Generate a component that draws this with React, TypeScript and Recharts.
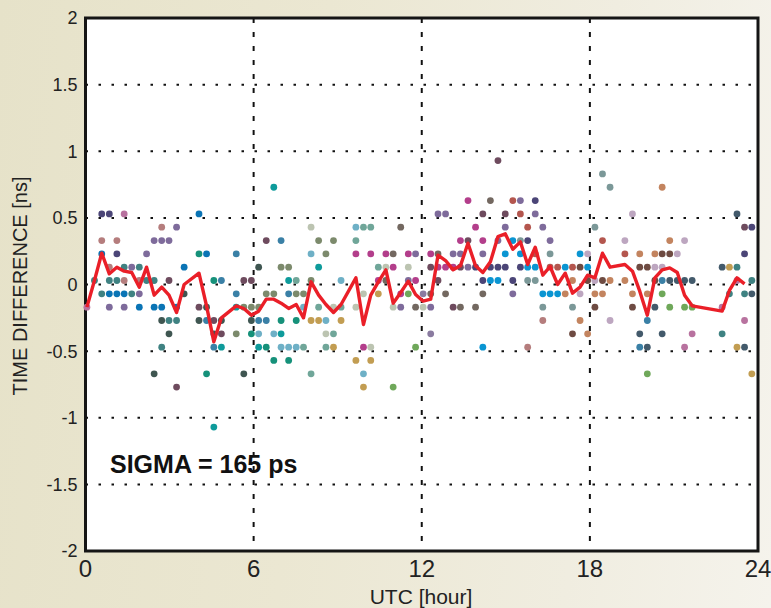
import React from 'react';
import {
    ScatterChart,
    Scatter,
    XAxis,
    YAxis,
    CartesianGrid,
    ReferenceArea
} from 'recharts';

type Pt = [number, number];

const hourTicks = [0, 6, 12, 18, 24];
const nsTicks = [-2, -1.5, -1, -0.5, 0, 0.5, 1, 1.5, 2];

// [UTC hour, time difference ns] per satellite track
const navy: Pt[] = [[0.58, 0.53], [0.85, 0.53], [1.12, 0.23], [13.92, 0.13], [14.18, 0.03], [14.45, 0.13], [14.72, 0.13], [14.98, 0.13], [15.25, 0.03], [15.52, 0.13], [15.78, 0.33], [16.05, 0.63], [23.52, 0.23], [23.78, 0.43]];
const rose: Pt[] = [[0.58, 0.33], [0.85, 0.13], [1.12, 0.33], [1.38, 0.03], [1.92, 0.03], [2.72, 0.43], [15.78, -0.47], [16.32, -0.27]];
const mauvePink: Pt[] = [[0.05, -0.17], [1.38, 0.53], [21.38, -0.47], [21.65, -0.37], [22.72, -0.17], [23.25, 0.03], [23.52, -0.27]];
const blue: Pt[] = [[0.58, 0.23], [0.85, -0.07], [1.12, -0.07], [1.38, -0.07], [1.92, -0.17], [2.45, -0.17], [2.72, -0.17], [3.25, -0.17], [3.52, 0.13], [4.05, 0.53], [4.32, 0.23]];
const cyanBlue: Pt[] = [[14.18, -0.47], [14.45, 0.03], [14.72, 0.03], [14.98, 0.23], [15.25, 0.33], [15.52, 0.23], [15.78, 0.13], [16.05, 0.13], [16.32, -0.07], [16.58, -0.07], [16.85, -0.07], [17.12, 0.13], [17.65, 0.23], [17.92, 0.13]];
const teal: Pt[] = [[0.32, 0.03], [0.58, -0.07], [0.85, 0.03], [1.12, 0.03], [1.38, 0.13], [1.65, -0.07], [1.92, 0.13], [2.18, 0.03], [2.45, 0.03], [2.72, -0.47], [2.98, -0.27], [3.25, -0.27], [22.72, -0.37], [22.98, -0.07], [23.25, 0.13], [23.52, -0.07], [23.78, 0.03]];
const purple: Pt[] = [[0.85, -0.17], [1.38, -0.17], [1.65, 0.13], [1.92, -0.07], [2.18, 0.23], [2.45, 0.33], [2.72, 0.33], [2.98, 0.33], [3.25, 0.43], [11.25, -0.17], [11.52, 0.03], [11.78, 0.23], [12.32, -0.17], [12.58, 0.53], [12.85, 0.53], [13.12, 0.23], [13.38, 0.23], [13.65, 0.13], [14.18, 0.23], [14.72, 0.33], [14.98, 0.43], [15.25, -0.07], [15.52, 0.63], [16.05, 0.53], [16.32, 0.43], [16.58, 0.33]];
const plum: Pt[] = [[2.98, 0.03], [3.25, -0.77], [4.05, -0.17], [4.58, -0.27], [4.85, -0.37], [5.65, 0.03], [5.92, 0.03], [6.45, 0.33], [12.32, 0.13], [12.58, 0.03], [13.12, -0.17], [13.38, 0.13], [13.65, 0.33], [14.18, 0.53], [14.72, 0.93], [14.98, 0.53], [23.52, 0.43]];
const darkSlate: Pt[] = [[2.45, -0.67], [2.72, -0.27], [2.98, -0.37], [3.52, -0.07], [4.05, -0.27], [4.32, -0.17], [4.58, -0.37], [4.85, -0.27], [5.65, -0.67], [5.92, -0.27], [6.18, 0.13]];
const tealGreen: Pt[] = [[4.05, 0.23], [4.32, -0.67], [4.58, 0.03], [5.92, -0.37], [6.45, -0.47], [6.72, -0.57], [6.98, -0.27], [7.25, -0.57], [7.52, -0.27]];
const steelBlue: Pt[] = [[4.32, -0.27], [4.58, -0.47], [4.85, 0.03], [5.38, 0.23], [5.38, -0.07], [6.18, -0.27], [6.45, -0.27], [6.98, 0.33], [7.25, -0.07], [19.78, -0.47], [20.05, -0.27], [20.58, 0.03]];
const cyanTeal: Pt[] = [[4.58, -1.07], [4.85, -0.47], [5.38, -0.17], [6.18, -0.47], [6.72, 0.73], [6.98, -0.37], [7.25, 0.03], [8.32, 0.13]];
const olive: Pt[] = [[5.38, -0.37], [5.65, -0.17], [5.92, -0.17], [6.18, -0.17], [6.45, -0.07], [6.72, -0.07], [6.98, 0.13], [7.25, 0.13], [7.52, -0.07], [7.78, -0.07], [8.05, 0.03], [8.32, 0.33], [8.58, 0.23], [8.85, 0.33]];
const lightBlue: Pt[] = [[6.18, -0.37], [6.72, -0.37], [6.98, -0.47], [7.25, -0.47], [7.52, -0.47], [7.78, -0.17], [8.05, 0.23], [8.58, -0.27], [9.12, 0.03], [9.65, 0.43], [9.92, -0.67]];
const tealGray: Pt[] = [[7.52, 0.03], [7.78, -0.47], [8.05, -0.67], [8.32, -0.17], [8.58, -0.47], [8.85, -0.37], [9.12, -0.17], [9.65, 0.33], [9.92, 0.43], [10.18, 0.43], [10.45, 0.13]];
const lightGray: Pt[] = [[8.05, 0.43], [8.58, -0.37], [8.85, -0.17], [9.65, -0.17], [9.92, -0.07], [10.18, -0.47], [10.72, 0.13], [10.98, -0.17], [11.52, 0.13], [12.05, -0.17]];
const gold: Pt[] = [[8.05, -0.27], [8.32, -0.27], [8.85, -0.47], [9.12, -0.27], [9.65, -0.57], [9.92, -0.77], [10.18, -0.57], [10.45, -0.07], [22.98, 0.13], [23.25, -0.47], [23.78, -0.67]];
const magenta: Pt[] = [[9.65, 0.23], [9.92, -0.47], [10.18, 0.23], [10.45, 0.03], [10.72, 0.23], [10.98, 0.13], [11.25, -0.07], [11.52, 0.23], [11.78, 0.03], [12.32, 0.23], [12.58, 0.13], [12.85, 0.13], [13.12, 0.13], [13.38, 0.33], [13.65, 0.63], [13.92, 0.43], [14.18, 0.33]];
const green: Pt[] = [[10.98, -0.77], [11.52, -0.07], [11.78, -0.47], [20.05, -0.67], [20.58, -0.07], [20.85, -0.17], [21.38, -0.17], [21.65, -0.17]];
const brownGray: Pt[] = [[10.72, 0.03], [10.98, 0.23], [11.25, 0.43], [11.78, -0.17], [12.32, -0.07], [12.58, 0.23], [12.85, -0.07], [13.38, -0.17], [13.92, -0.17], [14.18, -0.07], [14.45, 0.63]];
const purpleGray: Pt[] = [[12.05, -0.07], [12.32, -0.37]];
const rust: Pt[] = [[15.25, 0.63], [15.52, 0.53], [15.78, 0.43], [16.05, 0.23], [16.58, 0.13], [16.85, 0.13], [17.38, 0.13], [18.45, 0.33], [19.25, 0.23]];
const grayTeal: Pt[] = [[15.52, 0.33], [15.78, 0.03], [16.05, 0.03], [16.32, -0.17], [16.58, 0.23], [17.38, -0.17], [18.18, 0.43], [18.45, 0.83], [18.72, 0.73]];
const orange: Pt[] = [[17.12, -0.07], [17.38, 0.03], [17.65, -0.27], [17.92, -0.37], [18.18, -0.07], [18.45, -0.07], [18.72, 0.03], [19.25, 0.03], [19.52, -0.07], [19.78, 0.23], [20.05, -0.07], [20.32, 0.23], [20.58, 0.73], [20.85, 0.33]];
const brown: Pt[] = [[17.38, -0.37], [17.65, 0.13], [17.92, 0.03], [18.18, -0.17], [18.45, 0.03], [19.52, -0.17], [19.78, 0.13], [20.05, 0.13], [20.32, 0.03], [20.58, 0.23], [20.85, 0.23]];
const lightMauve: Pt[] = [[17.65, -0.07], [17.92, 0.23], [18.18, 0.03], [18.72, -0.27], [19.25, 0.33], [19.52, 0.53], [20.32, 0.13], [20.58, 0.13], [21.12, 0.23], [21.38, 0.33]];
const darkSlate2: Pt[] = [[19.78, -0.37], [20.05, -0.47], [20.32, -0.17], [20.58, -0.37], [20.85, 0.03], [21.12, 0.03], [21.38, 0.03], [21.65, 0.03], [22.72, 0.13], [23.25, 0.53], [23.52, -0.47], [23.78, -0.07]];

// mean of all tracks per epoch (red curve)
const meanLine: Pt[] = [
    [0.05, -0.17], [0.32, 0.03], [0.58, 0.235], [0.85, 0.08], [1.12, 0.13], [1.38, 0.1], [1.65, 0.09], [1.92, -0.02],
    [2.18, 0.13], [2.45, -0.08], [2.72, -0.02], [2.98, -0.08], [3.25, -0.21], [3.52, 0.0], [4.05, 0.085], [4.32, -0.16],
    [4.58, -0.43], [4.85, -0.25], [5.38, -0.16], [5.65, -0.18], [5.92, -0.23], [6.18, -0.2], [6.45, -0.11], [6.72, -0.11],
    [6.98, -0.14], [7.25, -0.18], [7.52, -0.15], [7.78, -0.25], [8.05, 0.02], [8.32, -0.08], [8.58, -0.15], [8.85, -0.21],
    [9.12, -0.15], [9.65, 0.05], [9.92, -0.3], [10.18, -0.08], [10.45, 0.02], [10.72, 0.11], [10.98, -0.14], [11.25, -0.06],
    [11.52, 0.025], [11.78, -0.075], [12.05, -0.125], [12.32, -0.11], [12.58, 0.22], [12.85, 0.18], [13.12, 0.11], [13.38, 0.14],
    [13.65, 0.31], [13.92, 0.14], [14.18, 0.09], [14.45, 0.17], [14.72, 0.36], [14.98, 0.38], [15.25, 0.265], [15.52, 0.32],
    [15.78, 0.15], [16.05, 0.28], [16.32, 0.07], [16.58, 0.135], [16.85, 0.0], [17.12, 0.085], [17.38, -0.065], [17.65, -0.02],
    [17.92, 0.07], [18.18, 0.05], [18.45, 0.235], [18.72, 0.13], [19.25, 0.15], [19.52, 0.1], [19.78, -0.05], [20.05, -0.23],
    [20.32, 0.05], [20.58, 0.11], [20.85, 0.125], [21.12, 0.09], [21.38, -0.08], [21.65, -0.16], [22.72, -0.2], [22.98, -0.045],
    [23.25, 0.05], [23.52, 0.005]
];

const tracks = [
    { name: 'navy', pts: navy, color: '#4b4577' },
    { name: 'rose', pts: rose, color: '#b57d7d' },
    { name: 'mauvePink', pts: mauvePink, color: '#b8729f' },
    { name: 'blue', pts: blue, color: '#0a74b5' },
    { name: 'cyanBlue', pts: cyanBlue, color: '#0a95d2' },
    { name: 'teal', pts: teal, color: '#3f8282' },
    { name: 'purple', pts: purple, color: '#7e6b9b' },
    { name: 'plum', pts: plum, color: '#6e4b5e' },
    { name: 'darkSlate', pts: darkSlate, color: '#3f5651' },
    { name: 'tealGreen', pts: tealGreen, color: '#16917a' },
    { name: 'steelBlue', pts: steelBlue, color: '#3a80a6' },
    { name: 'cyanTeal', pts: cyanTeal, color: '#0e9b9b' },
    { name: 'olive', pts: olive, color: '#7c8a6c' },
    { name: 'lightBlue', pts: lightBlue, color: '#6eb0c6' },
    { name: 'tealGray', pts: tealGray, color: '#70a699' },
    { name: 'lightGray', pts: lightGray, color: '#bcc4b1' },
    { name: 'gold', pts: gold, color: '#c29d52' },
    { name: 'magenta', pts: magenta, color: '#b33e8b' },
    { name: 'green', pts: green, color: '#6fa85a' },
    { name: 'brownGray', pts: brownGray, color: '#736860' },
    { name: 'purpleGray', pts: purpleGray, color: '#8a7ba0' },
    { name: 'rust', pts: rust, color: '#b4564e' },
    { name: 'grayTeal', pts: grayTeal, color: '#7b9898' },
    { name: 'orange', pts: orange, color: '#c3845f' },
    { name: 'brown', pts: brown, color: '#6e4b42' },
    { name: 'lightMauve', pts: lightMauve, color: '#bda6c0' },
    { name: 'darkSlate2', pts: darkSlate2, color: '#435a6b' }
];

const toXY = (pts: Pt[]) => pts.map(([x, y]) => ({ x, y }));

const font = '"Liberation Sans", Arial, sans-serif';

export default function App() {
    return (
        <div
            style={{
                position: 'absolute',
                left: 0,
                top: 0,
                width: 771,
                height: 608,
                overflow: 'hidden',
                fontFamily: font,
                background: 'linear-gradient(95deg, #e6e2c9 0%, #ebe7d2 40%, #f0ede0 75%, #f5f3ec 100%)'
            }}
        >
            <ScatterChart width={771} height={608} margin={{ top: 18, right: 13, bottom: 0, left: 0 }}>
                <CartesianGrid
                    horizontal
                    vertical={false}
                    fill="#ffffff"
                    stroke="#111"
                    strokeWidth={2}
                    strokeDasharray="2.5 10.5"
                />
                <CartesianGrid
                    horizontal={false}
                    vertical
                    stroke="#111"
                    strokeWidth={2}
                    strokeDasharray="5 9"
                />
                <XAxis
                    type="number"
                    dataKey="x"
                    domain={[0, 24]}
                    ticks={hourTicks}
                    interval={0}
                    axisLine={false}
                    tickLine={false}
                    tickSize={0}
                    tickMargin={9}
                    height={57}
                    tick={{ fontSize: 24, fill: '#222', fontFamily: font }}
                />
                <YAxis
                    type="number"
                    dataKey="y"
                    domain={[-2, 2]}
                    ticks={nsTicks}
                    interval={0}
                    axisLine={false}
                    tickLine={false}
                    tickSize={0}
                    tickMargin={8}
                    width={85.5}
                    tick={{ fontSize: 18, fill: '#222', fontFamily: font }}
                />
                {tracks.map((t) => (
                    <Scatter
                        key={t.name}
                        name={t.name}
                        data={toXY(t.pts)}
                        isAnimationActive={false}
                        shape={(p: any) => <circle cx={p.cx} cy={p.cy} r={3.4} fill={t.color} />}
                    />
                ))}
                <Scatter
                    name="mean"
                    data={toXY(meanLine)}
                    isAnimationActive={false}
                    line={{ stroke: '#ea1f28', strokeWidth: 3.4, strokeLinejoin: 'round' }}
                    lineType="joint"
                    shape={() => <g />}
                />
                <ReferenceArea x1={0} x2={24} y1={-2} y2={2} fill="none" stroke="#151515" strokeWidth={3} />
            </ScatterChart>
            <div
                style={{
                    position: 'absolute',
                    left: 20,
                    top: 286,
                    transform: 'translate(-50%, -50%) rotate(-90deg)',
                    whiteSpace: 'nowrap',
                    fontSize: 20,
                    color: '#222'
                }}
            >
                TIME DIFFERENCE [ns]
            </div>
            <div
                style={{
                    position: 'absolute',
                    left: 421,
                    top: 597,
                    transform: 'translate(-50%, -50%)',
                    whiteSpace: 'nowrap',
                    fontSize: 21,
                    color: '#222'
                }}
            >
                UTC [hour]
            </div>
            <div
                style={{
                    position: 'absolute',
                    left: 110,
                    top: 452,
                    lineHeight: 1,
                    whiteSpace: 'nowrap',
                    fontSize: 25,
                    fontWeight: 'bold',
                    color: '#111'
                }}
            >
                SIGMA = 165 ps
            </div>
        </div>
    );
}
